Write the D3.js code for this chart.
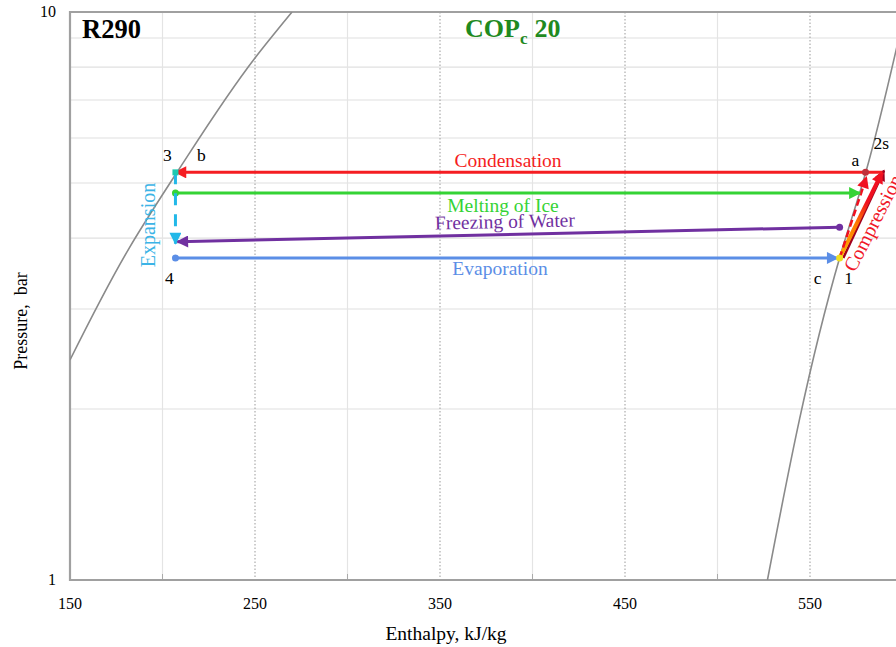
<!DOCTYPE html>
<html lang="en">
  <head>
    <meta charset="UTF-8" />
    <title>R290 p-h diagram</title>
    <style>
      body { margin: 0; background: white; }
      text { font-family: "Liberation Serif", "DejaVu Serif", serif; }
    </style>
    <script src="https://d3js.org/d3.v7.min.js"></script>
  </head>
  <body>
    <div id="svg-container"></div>
    <script>
      // axis ticks
      const xTicks = [150, 250, 350, 450, 550];
      const xMinor = [200, 300, 400, 500];
      const yTicks = [1, 10];
      const yGrid = [2, 3, 4, 5, 6, 7, 8, 9];

      // saturation dome (enthalpy kJ/kg, pressure bar)
      const liquidLine = [[150, 2.44], [182, 3.84], [208, 5.23], [250, 8.3], [270, 10]];
      const vaporLine = [[527, 1], [566, 3.69], [580, 5.2], [597, 8.7]];

      // cycle processes
      const processNames = ["Condensation", "Melting of Ice", "Freezing of Water", "Evaporation", "Expansion"];
      const processColors = ["#f51d22", "#35d335", "#7030a0", "#5b8ee6", "#22b8e8"];
      const processStart = [[589, 5.22], [207, 4.80], [566, 4.18], [207, 3.69], [207, 5.22]];
      const processEnd = [[207, 5.22], [577, 4.80], [208, 3.94], [565, 3.69], [207, 3.91]];

      // state points
      const stateNames = ["3", "b", "4", "a", "c", "1", "2s", "2"];
      const statePoints = [[207, 5.22], [207, 5.22], [207, 3.69], [580, 5.22], [566, 3.69], [566, 3.69], [581, 5.22], [589, 5.22]];

      const width = 896, height = 647;
      const svg = d3.select("#svg-container").append("svg")
        .attr("width", width).attr("height", height);

      const x = d3.scaleLinear().domain([150, 600]).range([70, 902.5]);
      const y = d3.scaleLog().domain([1, 10]).range([580, 12]);

      const defs = svg.append("defs");
      defs.append("clipPath").attr("id", "plot")
        .append("rect").attr("x", 70).attr("y", 12).attr("width", 840).attr("height", 568);

      function arrowFor(id, color, size) {
        defs.append("marker")
          .attr("id", id)
          .attr("viewBox", "0 0 10 10")
          .attr("refX", 9).attr("refY", 5)
          .attr("markerUnits", "userSpaceOnUse")
          .attr("markerWidth", size).attr("markerHeight", size * 0.8)
          .attr("orient", "auto")
          .append("path").attr("d", "M0,0 L10,5 L0,10 Z").attr("fill", color);
      }
      processColors.forEach((c, i) => arrowFor("arr" + i, c, 15));
      arrowFor("arrRed", "#f01020", 15);
      arrowFor("arrDark", "#a0001e", 14);

      // grid
      const grid = svg.append("g");
      grid.selectAll(".hg").data(yGrid).join("line")
        .attr("x1", 70).attr("x2", width).attr("y1", d => y(d)).attr("y2", d => y(d))
        .attr("stroke", "#e0e0e0").attr("stroke-width", 1.2);
      grid.selectAll(".vm").data(xMinor).join("line")
        .attr("x1", d => x(d)).attr("x2", d => x(d)).attr("y1", 12).attr("y2", 580)
        .attr("stroke", "#e4e4e4").attr("stroke-width", 1.2);
      grid.selectAll(".vd").data(xTicks.slice(1)).join("line")
        .attr("x1", d => x(d)).attr("x2", d => x(d)).attr("y1", 12).attr("y2", 580)
        .attr("stroke", "#9a9a9a").attr("stroke-width", 1).attr("stroke-dasharray", "1.5,2");
      grid.selectAll(".tk").data(xMinor).join("line")
        .attr("x1", d => x(d)).attr("x2", d => x(d)).attr("y1", 574).attr("y2", 580)
        .attr("stroke", "#aaa").attr("stroke-width", 1);

      // frame
      svg.append("path")
        .attr("d", `M${width},12 H70 V580 H${width}`)
        .attr("fill", "none").attr("stroke", "#a0a0a0").attr("stroke-width", 2.2);

      // tick labels
      svg.selectAll(".xl").data(xTicks).join("text")
        .attr("x", d => x(d)).attr("y", 609).attr("text-anchor", "middle")
        .attr("font-size", 16).text(d => d);
      svg.selectAll(".yl").data(yTicks).join("text")
        .attr("x", 56).attr("y", d => y(d) + 5).attr("text-anchor", "end")
        .attr("font-size", 16).text(d => d);

      svg.append("text").attr("x", 446).attr("y", 640).attr("text-anchor", "middle")
        .attr("font-size", 19.5).text("Enthalpy, kJ/kg");
      svg.append("text").attr("transform", "translate(27,321) rotate(-90)")
        .attr("text-anchor", "middle").attr("font-size", 18)
        .attr("xml:space", "preserve").text("Pressure,  bar");

      // saturation curves
      const line = d3.line().x(d => x(d[0])).y(d => y(d[1])).curve(d3.curveMonotoneY);
      const plot = svg.append("g").attr("clip-path", "url(#plot)");
      [liquidLine, vaporLine].forEach(pts => {
        plot.append("path").datum(pts).attr("d", line)
          .attr("fill", "none").attr("stroke", "#8a8a8a").attr("stroke-width", 1.6);
      });

      // compression lines
      const p1 = statePoints[5], p2 = statePoints[7], p2s = statePoints[6];
      const grad = defs.append("linearGradient").attr("id", "compGrad")
        .attr("gradientUnits", "userSpaceOnUse")
        .attr("x1", x(p1[0])).attr("y1", y(p1[1])).attr("x2", x(p2[0])).attr("y2", y(p2[1]));
      grad.append("stop").attr("offset", "0%").attr("stop-color", "#ffb000");
      grad.append("stop").attr("offset", "40%").attr("stop-color", "#ff7a00");
      grad.append("stop").attr("offset", "65%").attr("stop-color", "#f01020");
      grad.append("stop").attr("offset", "100%").attr("stop-color", "#f01020");

      plot.append("line")
        .attr("x1", x(p1[0] + 2)).attr("y1", y(p1[1])).attr("x2", x(p2[0] + 1)).attr("y2", y(p2[1] + 0.04))
        .attr("stroke", "#a0001e").attr("stroke-width", 2.5).attr("marker-end", "url(#arrDark)");
      plot.append("line")
        .attr("x1", x(p1[0])).attr("y1", y(p1[1])).attr("x2", x(p2[0])).attr("y2", y(p2[1]))
        .attr("stroke", "url(#compGrad)").attr("stroke-width", 4).attr("marker-end", "url(#arrRed)");
      plot.append("line")
        .attr("x1", x(p1[0])).attr("y1", y(p1[1])).attr("x2", x(p2s[0] - 0.5)).attr("y2", y(p2s[1] - 0.1))
        .attr("stroke", "#f01020").attr("stroke-width", 2.5).attr("stroke-dasharray", "7,4")
        .attr("marker-end", "url(#arrRed)");

      // process arrows
      processNames.forEach((name, i) => {
        const s = processStart[i], e = processEnd[i];
        plot.append("line")
          .attr("x1", x(s[0])).attr("y1", y(s[1])).attr("x2", x(e[0])).attr("y2", y(e[1]))
          .attr("stroke", processColors[i]).attr("stroke-width", 3)
          .attr("stroke-dasharray", name === "Expansion" ? "12,9" : null)
          .attr("marker-end", `url(#arr${i})`);
        if (name !== "Condensation" && name !== "Expansion") {
          plot.append("circle").attr("cx", x(s[0])).attr("cy", y(s[1])).attr("r", 3.5)
            .attr("fill", processColors[i]);
        }
      });

      // state markers
      plot.append("rect").attr("x", x(statePoints[0][0]) - 3).attr("y", y(statePoints[0][1]) - 3)
        .attr("width", 6).attr("height", 6).attr("fill", "#1ec8b0");
      plot.append("circle").attr("cx", x(statePoints[3][0])).attr("cy", y(statePoints[3][1]))
        .attr("r", 3.5).attr("fill", "#c0303a");
      plot.append("circle").attr("cx", x(statePoints[5][0])).attr("cy", y(statePoints[5][1]))
        .attr("r", 3.5).attr("fill", "#f0e020");

      // process labels
      const labelPos = [[508, 167], [503, 212], [505, 228], [500, 275]];
      processNames.slice(0, 4).forEach((name, i) => {
        svg.append("text")
          .attr("transform", `translate(${labelPos[i][0]},${labelPos[i][1]}) rotate(${i === 2 ? -1.3 : 0})`)
          .attr("text-anchor", "middle").attr("font-size", 19.5)
          .attr("fill", processColors[i]).text(name);
      });
      svg.append("text").attr("transform", "translate(155,225) rotate(-90)")
        .attr("text-anchor", "middle").attr("font-size", 20)
        .attr("fill", "#3cb4e6").text("Expansion");
      svg.append("text").attr("transform", "translate(879,226) rotate(-63)")
        .attr("text-anchor", "middle").attr("font-size", 20)
        .attr("fill", "#f01828").text("Compression");

      // state labels
      const stateOffsets = [[-8, -11], [26, -11], [-6, 26], [-10, -6], [-22, 26], [9, 26], [14, -23], [27, -16]];
      stateNames.forEach((n, i) => {
        svg.append("text")
          .attr("x", x(statePoints[i][0]) + stateOffsets[i][0])
          .attr("y", y(statePoints[i][1]) + stateOffsets[i][1])
          .attr("text-anchor", "middle").attr("font-size", 17.5).text(n);
      });

      // titles
      svg.append("text").attr("x", 82).attr("y", 38)
        .attr("font-size", 26.5).attr("font-weight", "bold").text("R290");
      const cop = svg.append("text").attr("x", 465).attr("y", 37)
        .attr("font-size", 26).attr("font-weight", "bold").attr("fill", "#1f8a1f");
      cop.append("tspan").text("COP");
      cop.append("tspan").attr("font-size", 17).attr("dy", 7).text("c");
      cop.append("tspan").attr("dy", -7).attr("dx", 7).text("20");
    </script>
  </body>
</html>
